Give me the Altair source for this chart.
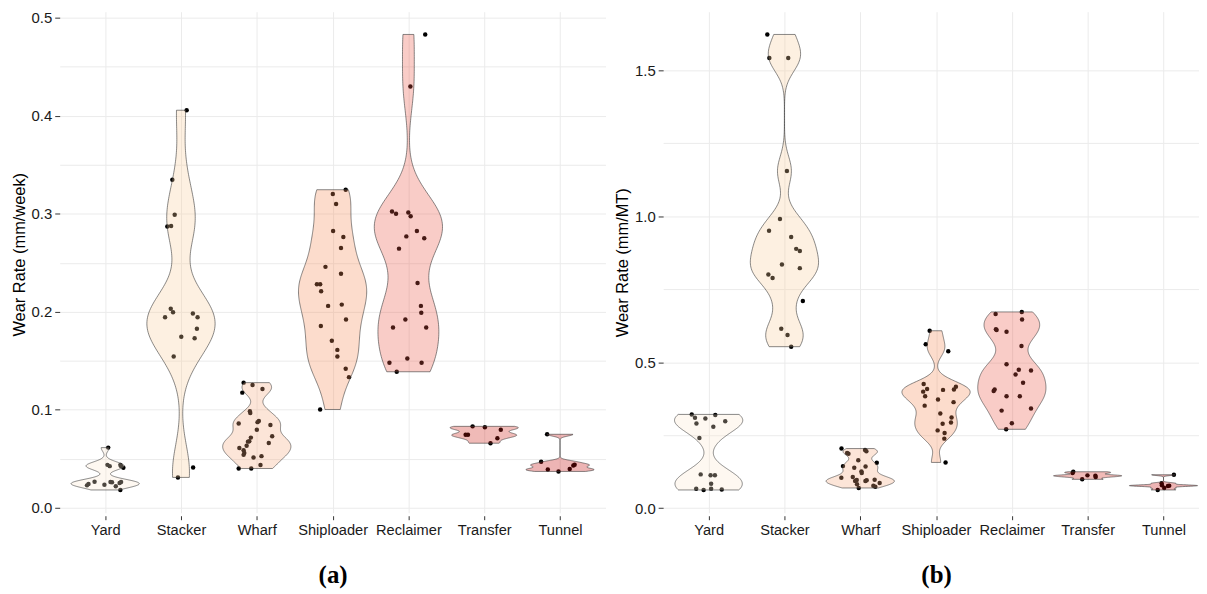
import altair as alt
import numpy as np
import pandas as pd

categories = ["Yard", "Stacker", "Wharf", "Shiploader", "Reclaimer", "Transfer", "Tunnel"]

# ---------------- Panel (a): wear rate (mm/week) ----------------
week_yard = [0.0614, 0.0438, 0.0425, 0.0438, 0.0425, 0.0408, 0.0229, 0.0243, 0.0266, 0.0236, 0.0263, 0.0260, 0.0219, 0.0253, 0.0263, 0.0182]
week_yard_jit = [0.04, 0.03, 0.06, 0.20, 0.21, 0.24, -0.24, -0.22, -0.14, -0.01, 0.07, 0.09, 0.14, 0.19, 0.21, 0.20]
week_stacker = [0.4056, 0.3347, 0.2990, 0.2870, 0.2874, 0.1945, 0.2030, 0.1996, 0.1746, 0.1543, 0.1982, 0.1945, 0.1827, 0.1729, 0.0310, 0.0411]
week_stacker_jit = [0.075, -0.114, -0.083, -0.18, -0.13, -0.21, -0.135, -0.105, 0.004, -0.096, 0.157, 0.219, 0.21, 0.18, -0.04, 0.16]
week_wharf = [0.1277, 0.1253, 0.1212, 0.1175, 0.0986, 0.0966, 0.0861, 0.0874, 0.0885, 0.0844, 0.0797, 0.0730, 0.0716, 0.0679, 0.0675, 0.0634, 0.0662, 0.0611, 0.0588, 0.0560, 0.0540, 0.0513, 0.0527, 0.0436, 0.0401, 0.0401]
week_wharf_jit = [-0.174, -0.056, 0.075, -0.191, -0.091, -0.086, -0.239, 0.010, 0.027, 0.180, 0.001, 0.203, -0.078, -0.099, -0.117, -0.134, 0.158, -0.230, -0.174, -0.165, -0.174, -0.043, 0.062, 0.049, -0.239, -0.073]
week_shiploader = [0.3245, 0.3201, 0.3100, 0.2823, 0.2762, 0.2651, 0.2458, 0.2387, 0.2280, 0.2280, 0.2209, 0.2060, 0.2073, 0.1921, 0.1854, 0.1705, 0.1611, 0.1543, 0.1418, 0.1333, 0.1003]
week_shiploader_jit = [0.173, 0.003, 0.046, 0.007, 0.142, 0.111, -0.094, 0.111, -0.207, -0.164, -0.151, -0.059, 0.121, 0.177, -0.155, -0.010, 0.063, 0.063, 0.173, 0.216, -0.164]
week_reclaimer = [0.4829, 0.4299, 0.3022, 0.2999, 0.3012, 0.2975, 0.2823, 0.2769, 0.2749, 0.2644, 0.2293, 0.2060, 0.1989, 0.1921, 0.1840, 0.1840, 0.1479, 0.1523, 0.1479, 0.1388]
week_reclaimer_jit = [0.222, 0.026, -0.216, -0.163, -0.001, 0.030, 0.112, -0.027, 0.209, -0.124, 0.121, 0.165, 0.170, -0.040, -0.203, 0.235, -0.250, -0.014, 0.174, -0.154]
week_transfer = [0.0831, 0.0821, 0.0797, 0.0746, 0.0746, 0.0709, 0.0659]
week_transfer_jit = [-0.153, 0.009, 0.219, -0.245, -0.214, 0.174, 0.083]
week_tunnel = [0.0750, 0.0469, 0.0391, 0.0371, 0.0395, 0.0432, 0.0439]
week_tunnel_jit = [-0.170, -0.249, -0.161, -0.020, 0.128, 0.176, 0.193]

# ---------------- Panel (b): wear rate (mm/MT) ----------------
mt_yard = [0.3210, 0.3190, 0.3095, 0.3071, 0.2975, 0.2900, 0.2790, 0.2400, 0.1156, 0.1128, 0.1128, 0.0832, 0.0662, 0.0622, 0.0667, 0.0640]
mt_yard_jit = [-0.223, 0.088, -0.180, -0.043, 0.219, -0.161, 0.062, -0.122, -0.105, 0.026, 0.083, 0.033, -0.164, -0.066, 0.033, 0.173]
mt_stacker = [1.6224, 1.5418, 1.5418, 1.1550, 0.9900, 0.9500, 0.9286, 0.8880, 0.8810, 0.8344, 0.8220, 0.8000, 0.7880, 0.7095, 0.6143, 0.5930, 0.5530]
mt_stacker_jit = [-0.226, -0.199, 0.050, 0.033, -0.059, -0.203, 0.089, 0.155, 0.203, -0.033, 0.203, -0.212, -0.156, 0.243, -0.042, 0.041, 0.089]
mt_wharf = [0.2040, 0.1890, 0.1860, 0.1993, 0.1949, 0.1643, 0.1555, 0.1439, 0.1380, 0.1429, 0.1259, 0.1200, 0.1040, 0.1065, 0.0963, 0.0929, 0.0816, 0.0929, 0.0952, 0.0973, 0.0860, 0.0769, 0.0735, 0.0690]
mt_wharf_jit = [-0.247, -0.173, -0.155, 0.063, 0.081, -0.026, 0.218, -0.228, -0.079, 0.070, 0.016, 0.020, -0.249, -0.098, -0.046, -0.068, -0.042, 0.068, 0.085, 0.190, 0.256, 0.173, 0.199, -0.020]
mt_shiploader = [0.6075, 0.5610, 0.5370, 0.4250, 0.4080, 0.3990, 0.4050, 0.4160, 0.4060, 0.3830, 0.3720, 0.3630, 0.3510, 0.3240, 0.3106, 0.2890, 0.2935, 0.2663, 0.2570, 0.2380, 0.1565]
mt_shiploader_jit = [-0.084, -0.136, 0.161, -0.163, -0.118, -0.170, 0.092, 0.262, 0.236, -0.144, 0.026, 0.231, -0.150, 0.056, 0.205, 0.087, 0.197, 0.021, 0.113, 0.109, 0.126]
mt_reclaimer = [0.6650, 0.6720, 0.6460, 0.6130, 0.6100, 0.6040, 0.5550, 0.4930, 0.4740, 0.4714, 0.4580, 0.4296, 0.4060, 0.4010, 0.3830, 0.3830, 0.3340, 0.3410, 0.2910, 0.2700]
mt_reclaimer_jit = [-0.214, 0.131, 0.135, -0.210, -0.201, -0.070, 0.127, -0.070, 0.092, 0.253, 0.049, 0.148, -0.227, -0.240, -0.070, 0.105, -0.135, 0.253, 0.000, -0.075]
mt_transfer = [0.1245, 0.1200, 0.1122, 0.1110, 0.1065, 0.0986]
mt_transfer_jit = [-0.190, -0.199, -0.003, 0.102, 0.106, -0.072]
mt_tunnel = [0.1143, 0.0850, 0.0780, 0.0770, 0.0760, 0.0690, 0.0622]
mt_tunnel_jit = [0.138, -0.024, -0.020, 0.076, 0.059, 0.010, -0.076]

# tick values
week_major = [0.0, 0.1, 0.2, 0.3, 0.4, 0.5]
week_minor = [0.05, 0.15, 0.25, 0.35, 0.45]
mt_major = [0.0, 0.5, 1.0, 1.5]
mt_minor = [0.25, 0.75, 1.25]

# style
fills = ["#FCE8D0", "#F8CD9B", "#F5AA7D", "#F58C55", "#EB5546", "#CD190F", "#C30505"]
GRID = "#EBEBEB"
BW_ADJUST = 0.65


def nrd0(x):
    x = np.asarray(x, dtype=float)
    n = len(x)
    sd = x.std(ddof=1)
    q75, q25 = np.percentile(x, [75, 25])
    lo = min(sd, (q75 - q25) / 1.34)
    if lo <= 0:
        lo = sd if sd > 0 else (abs(x[0]) if x[0] != 0 else 1.0)
    return 0.9 * lo * n ** -0.2


def panel(value_lists, jitter_lists, ytitle, xtitle, major, minor, step,
          width, xmax, title_y=None, title_x=None):
    rows = []
    for i, (cat, vals, jit) in enumerate(zip(categories, value_lists, jitter_lists)):
        for v, j in zip(vals, jit):
            rows.append({"cat": cat, "idx": i, "value": v, "jit": j})
    df = pd.DataFrame(rows)
    lo, hi = df["value"].min(), df["value"].max()
    pad = 0.05 * (hi - lo)
    yscale = alt.Scale(domain=[lo - pad, hi + pad], nice=False, zero=False)
    xscale = alt.Scale(domain=[-0.6, xmax], nice=False, zero=False)

    test = f"abs(datum.value/{step} - round(datum.value/{step})) < 1e-6"
    ykw = dict(
        title=ytitle, values=sorted(major + minor),
        labelExpr=f"({test}) ? format(datum.value, '.1f') : ''",
        tickOpacity={"condition": {"test": test, "value": 1}, "value": 0},
        labelOverlap=False, labelFlush=False,
        labelFontSize=15, titleFontSize=16.5, tickSize=5, labelPadding=3,
        titlePadding=4, grid=True,
    )
    if title_y is not None:
        ykw["titleY"] = title_y
    yaxis = alt.Axis(**ykw)
    name_arr = "[" + ",".join(f"'{c}'" for c in categories) + "]"
    xkw = dict(
        title=xtitle, values=list(range(len(categories))),
        labelExpr=f"{name_arr}[round(datum.value)]",
        labelOverlap=False, labelFlush=False, labelFontSize=14.7,
        tickSize=4, offset=3, labelPadding=3, grid=True,
        titleFont="Liberation Serif", titleFontWeight="bold", titleFontSize=25,
        titlePadding=25,
    )
    if title_x is not None:
        xkw["titleX"] = title_x
    xaxis = alt.Axis(**xkw)

    base = alt.Chart(df)
    pts = base.transform_calculate(jx="datum.idx + datum.jit").mark_circle(
        size=20, color="black", opacity=1
    ).encode(
        x=alt.X("jx:Q", scale=xscale, axis=xaxis),
        y=alt.Y("value:Q", scale=yscale, axis=yaxis),
    )
    layers = [pts]
    for i, vals in enumerate(value_lists):
        bw = float(nrd0(vals)) * BW_ADJUST
        v = (
            base.transform_filter(alt.datum.idx == i)
            .transform_density("value", as_=["value", "density"], groupby=["idx"],
                               bandwidth=bw, steps=200)
            .transform_joinaggregate(dmax="max(density)")
            .transform_calculate(
                lo="datum.idx - 0.45*datum.density/datum.dmax",
                hi="datum.idx + 0.45*datum.density/datum.dmax",
            )
            .mark_area(orient="horizontal", fill=fills[i], fillOpacity=0.3,
                       stroke="#3a3a3a", strokeWidth=0.6, strokeOpacity=1)
            .encode(
                x=alt.X("lo:Q", scale=xscale, axis=xaxis),
                x2="hi:Q",
                y=alt.Y("value:Q", scale=yscale, axis=yaxis),
            )
        )
        layers.append(v)
    return alt.layer(*layers).properties(width=width, height=504)


pa = panel(
    [week_yard, week_stacker, week_wharf, week_shiploader, week_reclaimer, week_transfer, week_tunnel],
    [week_yard_jit, week_stacker_jit, week_wharf_jit, week_shiploader_jit, week_reclaimer_jit, week_transfer_jit, week_tunnel_jit],
    "Wear Rate (mm/week)", "(a)", week_major, week_minor, 0.1,
    width=549, xmax=6.6, title_y=244,
)
pb = panel(
    [mt_yard, mt_stacker, mt_wharf, mt_shiploader, mt_reclaimer, mt_transfer, mt_tunnel],
    [mt_yard_jit, mt_stacker_jit, mt_wharf_jit, mt_shiploader_jit, mt_reclaimer_jit, mt_transfer_jit, mt_tunnel_jit],
    "Wear Rate (mm/MT)", "(b)", mt_major, mt_minor, 0.5,
    width=539, xmax=-0.6 + 7.2 * 539 / 549, title_x=274.5,
)

chart = (
    alt.hconcat(pa, pb, spacing=9)
    .properties(padding={"left": 3, "top": 1, "right": 0, "bottom": 0}, background="white")
    .configure_view(strokeWidth=0)
    .configure_axis(
        gridColor=GRID, gridWidth=1, domain=False, tickColor="#333333",
        labelColor="#1A1A1A", titleColor="#000000",
        labelFont="Liberation Sans", titleFont="Liberation Sans",
        titleFontWeight="normal",
    )
)

chart.save("out.html", embed_options={"renderer": "svg", "actions": False})
